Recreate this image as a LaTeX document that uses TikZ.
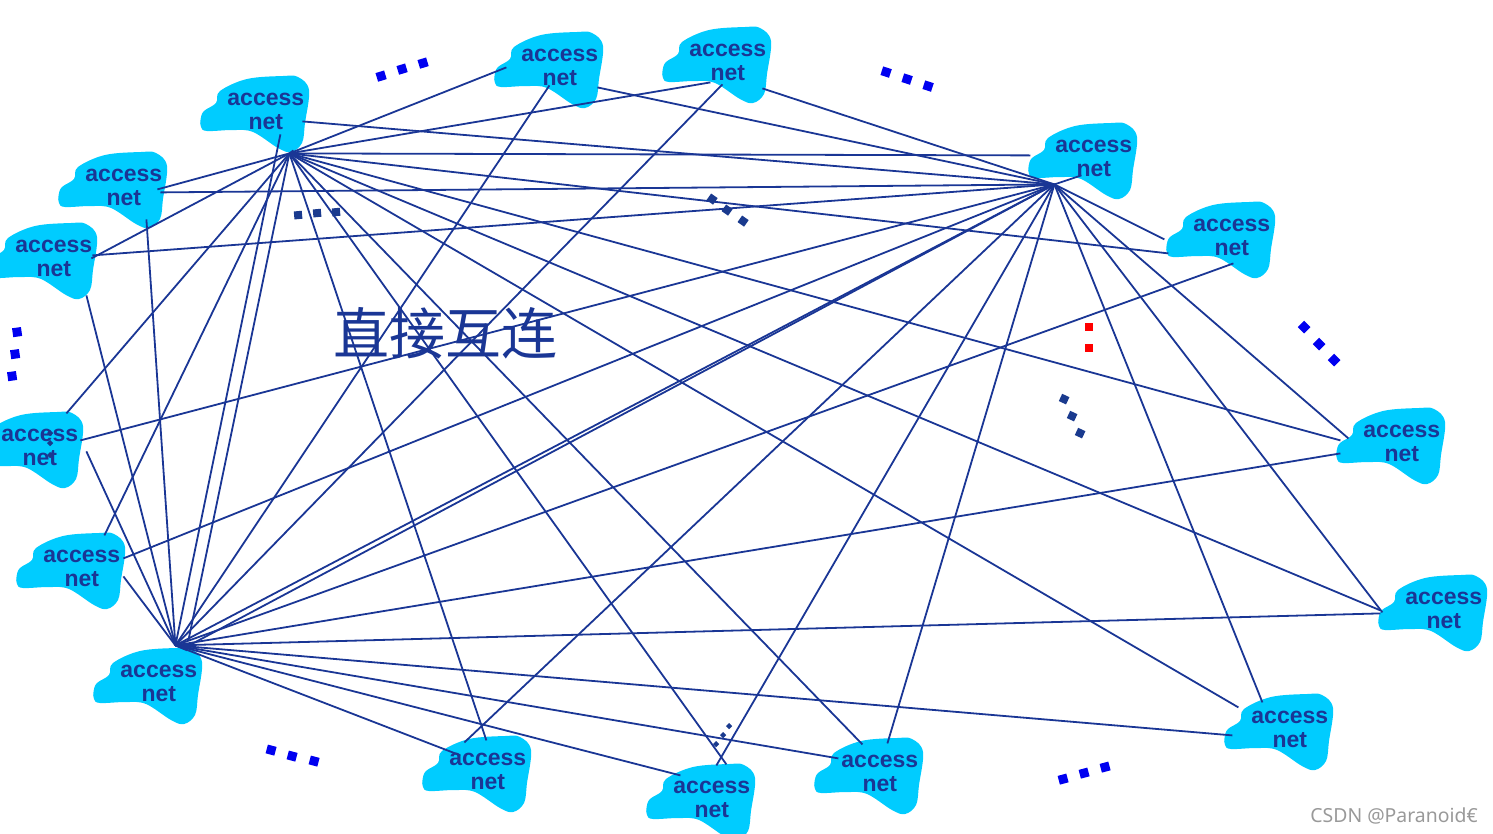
\documentclass[tikz,border=0pt]{standalone}
\usepackage{fontspec}
\setmainfont{Liberation Sans}
\newfontfamily\cjkfont{Noto Sans CJK SC}
\newfontfamily\markfont{Noto Sans}
\definecolor{cloudblue}{HTML}{00CCFF}
\definecolor{inkblue}{HTML}{1A3695}
\definecolor{dotblue}{HTML}{0000F0}
\definecolor{dotdark}{HTML}{1A3A8E}
\definecolor{dotred}{HTML}{FF0000}
\tikzset{
  cloudpic/.pic={\fill[cloudblue] plot[smooth cycle,tension=.6] coordinates {
    (-65.2,8.2) (-61.8,.2) (-49.8,-7.8) (-45.8,-19.8) (-18.8,-31.8) (17.2,-34.8) (32.2,-33.8) (43.2,-20.8)
    (39.2,12.2) (36.2,32.2) (25.2,41.2) (12.2,37.2) (-12.8,21.2) (-32.8,19.2) (-58.8,20.2) (-64.8,16.2)};},
  nettext/.style={inner sep=0pt,align=center,text=inkblue,yshift=-1pt,
    font=\fontsize{23}{24}\selectfont\bfseries},
  link/.style={draw=inkblue,line width=1.8pt},
  bigsq/.style={fill=dotblue},
  darksq/.style={fill=dotdark}
}
\begin{document}
\begin{tikzpicture}[x=1pt,y=-1pt]
\clip (-0.8,-0.8) rectangle (1492.2,832.2);
\foreach \px/\py in {265/110,123/186,53/257,559/66,727/61,1093/157,1231/236,1401/442,
  1443/609,1289/728,879/772,711/798,487/770,158/682,81/567,39/446}
  \pic at (\px,\py) {cloudpic};
% hubs and connector ends
\foreach \nm/\px/\py in {hubA/288.6/152.6,hubB/1053.6/183.6,hubC/174.6/644.6,hubCa/187.6/639.6,hubCb/184.6/646.6,
  n1a/292.6/149.6,n2a/156.6/188.6,n3a/90.6/257.6,n4a/505.6/66.6,n5a/709.6/81.6,n6a/1029.6/154.6,n7a/1167.6/252.6,
  n8a/1339.6/439.6,n9a/1379.6/609.6,n10a/1237.6/706.6,n11a/861.6/743.6,n12a/725.6/763.6,n13a/485.6/739.6,
  n15a/103.6/534.6,n16a/65.6/412.6,
  n1b/301.6/120.6,n2b/159.6/191.6,n3b/91.6/254.6,n4b/596.6/86.6,n5b/761.6/87.6,n6b/1080.6/174.6,n7b/1163.6/238.6,
  n8b/1347.6/437.6,n9b/1381.6/611.6,n10b/1261.6/701.6,n11b/886.6/742.6,n12b/715.6/764.6,n13b/463.6/741.6,
  n15b/122.6/557.6,n16b/79.6/439.6,
  n1c/279.6/133.6,n2c/145.6/218.6,n3c/85.6/294.6,n4c/548.6/84.6,n5c/721.6/83.6,n7c/1232.6/262.6,n8c/1339.6/452.6,
  n9c/1379.6/612.6,n10c/1231.6/734.6,n11c/837.6/757.6,n12c/679.6/774.6,n13c/459.6/754.6,n14c/186.6/649.6,
  n15c/122.6/575.6,n16c/85.6/450.6}
  \coordinate (\nm) at (\px,\py);
\foreach \e in {n1a,n2a,n3a,n4a,n5a,n6a,n7a,n8a,n9a,n10a,n11a,n12a,n13a,n15a,n16a,hubCa}
  \draw[link] (hubA) -- (\e);
\foreach \e in {n1b,n2b,n3b,n4b,n5b,n6b,n7b,n8b,n9b,n10b,n11b,n12b,n13b,n15b,n16b,hubC,hubCb}
  \draw[link] (hubB) -- (\e);
\foreach \e in {n1c,n2c,n3c,n4c,n5c,n7c,n8c,n9c,n10c,n11c,n12c,n13c,n14c,n15c,n16c}
  \draw[link] (hubC) -- (\e);
% labels
\node[nettext] (n1) at (265,110) {access\\net};
\node[nettext] (n2) at (123,186) {access\\net};
\node[nettext] (n3) at (53,257) {access\\net};
\node[nettext] (n4) at (559,66) {access\\net};
\node[nettext] (n5) at (727,61) {access\\net};
\node[nettext] (n6) at (1093,157) {access\\net};
\node[nettext] (n7) at (1231,236) {access\\net};
\node[nettext] (n8) at (1401,442) {access\\net};
\node[nettext] (n9) at (1443,609) {access\\net};
\node[nettext] (n10) at (1289,728) {access\\net};
\node[nettext] (n11) at (879,772) {access\\net};
\node[nettext] (n12) at (711,798) {access\\net};
\node[nettext] (n13) at (487,770) {access\\net};
\node[nettext] (n14) at (158,682) {access\\net};
\node[nettext] (n15) at (81,567) {access\\net};
\node[nettext] (n16) at (39,446) {access\\net};
\node[inner sep=0pt,text=inkblue,font=\fontsize{56}{60}\selectfont\cjkfont] (title) at (445,332) {直接互连};
\node[inner sep=0pt,anchor=east,text=black!40,font=\fontsize{19.4}{22}\selectfont\markfont] (mark) at (1477,815) {CSDN @Paranoid€};
% ellipsis squares
\begin{scope}[shift={(-.7,-.7)}]
\foreach \px/\py/\r in {381/76/17,402/69/17,423/63/17,886/72/-18,907/79/-18,928/86/-18,
  1304/327/-45,1319/344/-45,1334/360/-45,17/332/8,15/354/8,12/376/8,
  271/750/-15,292/756/-15,314/761/-15,1063/779/15,1084/773/15,1105/767/15}
  \fill[bigsq,shift={(\px,\py)},rotate=\r] (-4.5,-4.5) rectangle (4.5,4.5);
\foreach \px/\py/\r in {712/199/-35,727/210/-35,743/221/-35,298/215/5,317/213/5,336/212/5,
  1064/399/-25,1072/416/-25,1080/433/-25}
  \fill[darksq,shift={(\px,\py)},rotate=\r] (-4,-4) rectangle (4,4);
\foreach \px/\py in {50/433,50/443,50/455,716/744,723/735,729/726}
  \fill[darksq,shift={(\px,\py)},rotate=45] (-2.2,-2.2) rectangle (2.2,2.2);
\foreach \px/\py in {1089/327,1089/348}
  \fill[dotred] (\px-4,\py-4) rectangle (\px+4,\py+4);
\end{scope}
\end{tikzpicture}
\end{document}
